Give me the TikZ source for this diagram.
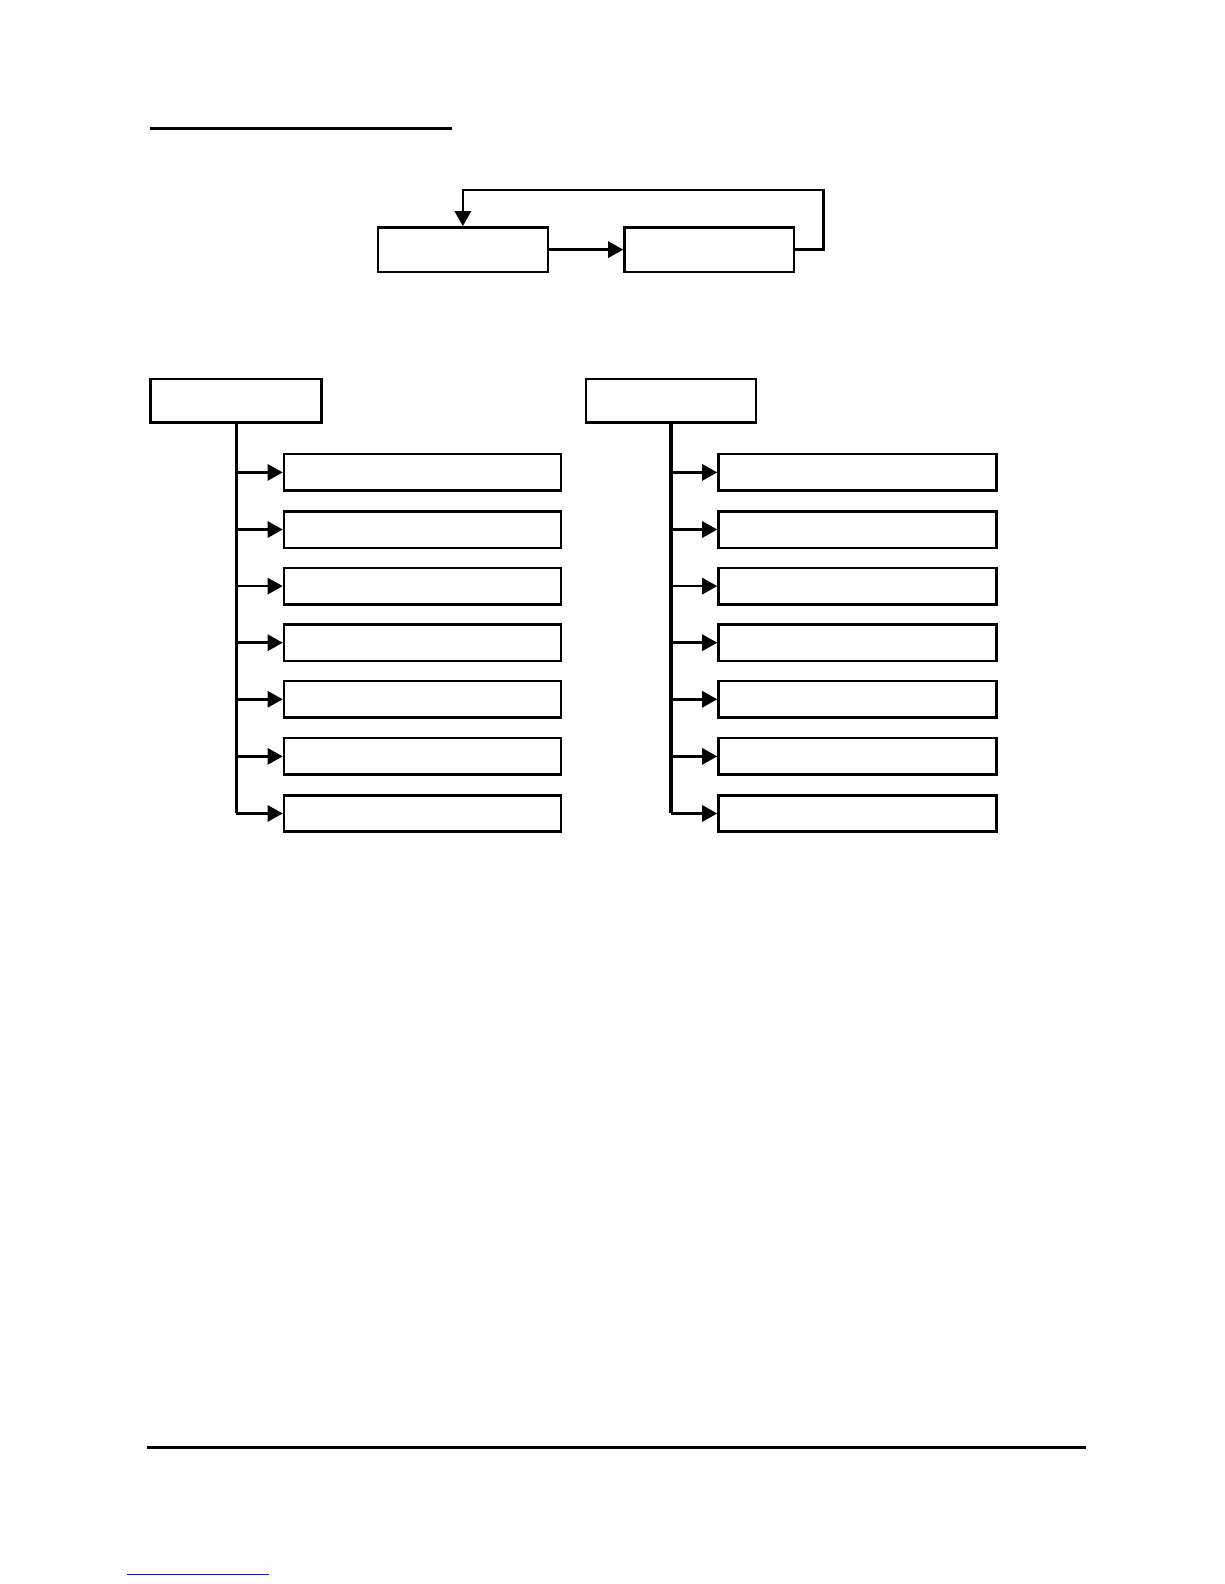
\documentclass[tikz,border=0pt]{standalone}
\usetikzlibrary{arrows.meta}
\begin{document}
\begin{tikzpicture}[x=0.5bp,y=-0.5bp,
  box/.style={draw,line width=1.2bp,inner sep=0pt},
  conn/.style={line width=1.3bp,-{Triangle[length=7.5bp,width=8bp]}},
  trunk/.style={line width=1.5bp},
  rule/.style={line width=1.5bp}]
\useasboundingbox (0,0) rectangle (1211.3,1567.5);
% top rule
\coordinate (t1) at (148,127); \coordinate (t2) at (447,127);
\draw[rule] (t1) -- (t2);
% loop boxes
\node[box,minimum width=84bp,minimum height=22bp] (A) at (458,247) {};
\node[box,minimum width=84bp,minimum height=22bp] (B) at (702,247) {};
\draw[conn] (A) -- (B);
\coordinate (fb1) at (815,247); \coordinate (fb2) at (815,188); \coordinate (fb3) at (458,188);
\draw[conn] (B.east) -- (fb1) -- (fb2) -- (fb3) -- (A.north);
% headers
\node[box,minimum width=84.5bp,minimum height=21.5bp] (L) at (233.5,396.5) {};
\node[box,minimum width=84bp,minimum height=21.5bp] (R) at (664,396.5) {};
% children
\foreach \i/\y in {1/467.5,2/524,3/580,4/636,5/692,6/748.5,7/805}{
  \node[box,minimum width=137bp,minimum height=18bp] (L\i) at (418,\y) {};
  \node[box,minimum width=137.5bp,minimum height=18bp] (R\i) at (848.5,\y) {};
  \coordinate (lb\i) at (234,\y);
  \coordinate (rb\i) at (664,\y);
  \draw[conn] (lb\i) -- (L\i.west);
  \draw[conn] (rb\i) -- (R\i.west);
}
\draw[trunk] (L.south -| lb1) -- (lb7);
\draw[trunk] (R.south -| rb1) -- (rb7);
% bottom rule
\coordinate (b1) at (145,1432); \coordinate (b2) at (1075,1432);
\draw[rule] (b1) -- (b2);
\definecolor{linkblue}{RGB}{30,30,160}
\coordinate (u1) at (126,1558); \coordinate (u2) at (266,1558);
\draw[linkblue,line width=0.6bp] (u1) -- (u2);
\end{tikzpicture}
\end{document}
